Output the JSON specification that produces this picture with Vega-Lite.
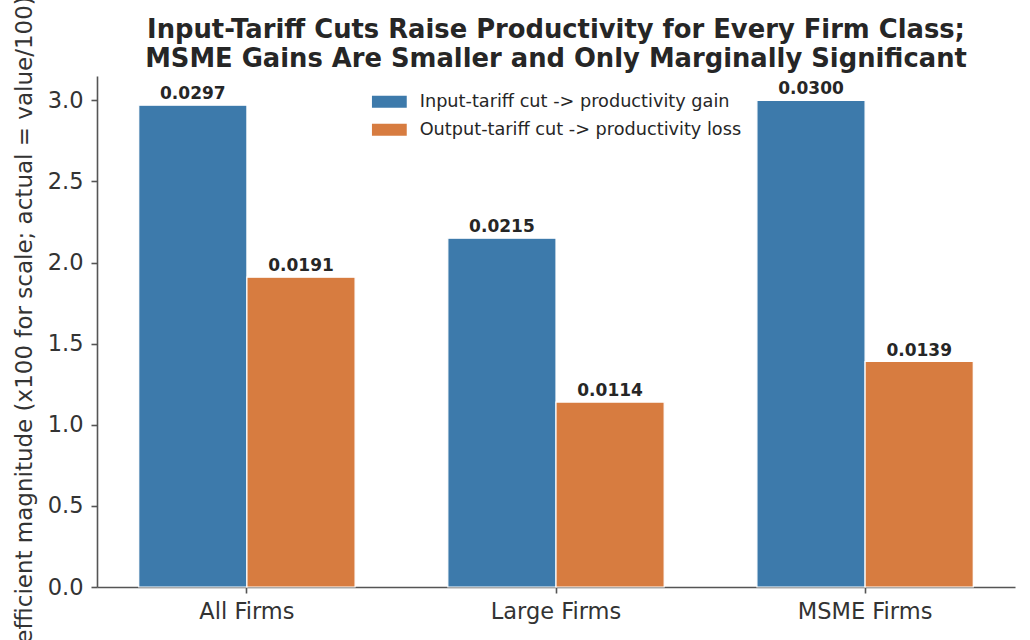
{
  "$schema": "https://vega.github.io/schema/vega-lite/v6.json",
  "autosize": {"type": "none"},
  "padding": {"left": 97, "top": 76, "right": 15, "bottom": 53},
  "width": 918,
  "height": 511,
  "background": "white",
  "title": {
    "text": [
      "Input-Tariff Cuts Raise Productivity for Every Firm Class;",
      "MSME Gains Are Smaller and Only Marginally Significant"
    ],
    "font": "DejaVu Sans",
    "fontSize": 25.8,
    "fontWeight": "bold",
    "color": "#262626",
    "anchor": "middle",
    "frame": "group",
    "lineHeight": 29,
    "offset": -77
  },
  "data": {
    "values": [
      {"group": "All Firms", "series": "Input-tariff cut -> productivity gain", "scaled": 2.97, "label": "0.0297"},
      {"group": "All Firms", "series": "Output-tariff cut -> productivity loss", "scaled": 1.91, "label": "0.0191"},
      {"group": "Large Firms", "series": "Input-tariff cut -> productivity gain", "scaled": 2.15, "label": "0.0215"},
      {"group": "Large Firms", "series": "Output-tariff cut -> productivity loss", "scaled": 1.14, "label": "0.0114"},
      {"group": "MSME Firms", "series": "Input-tariff cut -> productivity gain", "scaled": 3.0, "label": "0.0300"},
      {"group": "MSME Firms", "series": "Output-tariff cut -> productivity loss", "scaled": 1.39, "label": "0.0139"}
    ]
  },
  "encoding": {
    "x": {
      "field": "group",
      "type": "nominal",
      "sort": null,
      "title": null,
      "scale": {"paddingInner": 0.3, "paddingOuter": 0.135},
      "axis": {"labelAngle": 0, "tickSize": 6, "labelPadding": 7}
    },
    "xOffset": {
      "field": "series",
      "type": "nominal",
      "sort": null,
      "scale": {"paddingInner": 0, "paddingOuter": 0}
    },
    "y": {
      "field": "scaled",
      "type": "quantitative",
      "title": "Coefficient magnitude (x100 for scale; actual = value/100)",
      "scale": {"domain": [0, 3.15], "nice": false},
      "axis": {
        "values": [0, 0.5, 1, 1.5, 2, 2.5, 3],
        "format": ".1f",
        "tickSize": 6,
        "labelPadding": 8,
        "titlePadding": 11,
        "titleFontSize": 23,
        "titleY": 258.5
      }
    }
  },
  "layer": [
    {
      "mark": {"type": "bar", "stroke": "white", "strokeWidth": 1.2},
      "encoding": {
        "color": {
          "field": "series",
          "type": "nominal",
          "sort": null,
          "scale": {"range": ["#3d7aab", "#d77c40"]},
          "legend": {
            "title": null,
            "orient": "none",
            "legendX": 283.5,
            "legendY": 17,
            "padding": 0,
            "rowPadding": 9,
            "labelOffset": 21.5,
            "labelLimit": 0,
            "labelFontSize": 17.7,
            "labelFont": "DejaVu Sans",
            "labelColor": "#262626",
            "symbolType": "M-2.9,-1H2.9V1H-2.9Z",
            "symbolSize": 144,
            "symbolStrokeWidth": 0,
            "symbolOpacity": 1
          }
        }
      }
    },
    {
      "mark": {
        "type": "text",
        "baseline": "alphabetic",
        "dy": -6,
        "font": "DejaVu Sans",
        "fontSize": 17,
        "fontWeight": "bold",
        "color": "#262626"
      },
      "encoding": {"text": {"field": "label"}}
    }
  ],
  "config": {
    "view": {"stroke": null},
    "axis": {
      "grid": false,
      "labelFont": "DejaVu Sans",
      "labelFontSize": 22.5,
      "labelColor": "#333333",
      "titleFont": "DejaVu Sans",
      "titleFontSize": 22.5,
      "titleFontWeight": "normal",
      "titleColor": "#333333",
      "domainColor": "#555555",
      "domainWidth": 1.6,
      "tickColor": "#555555",
      "tickWidth": 1.6
    }
  }
}
